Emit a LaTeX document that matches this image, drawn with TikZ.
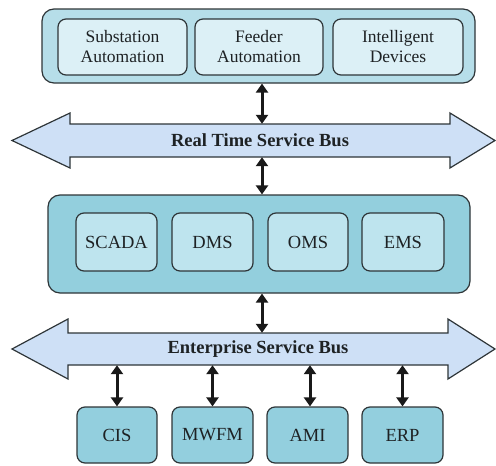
\documentclass[tikz,border=0pt]{standalone}
\usepackage{fontspec}
\setmainfont{Liberation Serif}
\usetikzlibrary{arrows.meta}
\definecolor{outertop}{HTML}{B6DEE9}
\definecolor{innertop}{HTML}{DCF0F6}
\definecolor{midouter}{HTML}{93CFDD}
\definecolor{midinner}{HTML}{BEE4EE}
\definecolor{busfill}{HTML}{CEE0F6}
\definecolor{botfill}{HTML}{93CFDE}
\definecolor{edge}{HTML}{2E3538}
\definecolor{txt}{HTML}{1E2224}
\tikzset{
  box/.style={draw=edge, line width=1.2pt, rounded corners=8pt, inner sep=0pt, align=center, text=txt},
  bigbox/.style={draw=edge, line width=1.2pt, rounded corners=12pt, inner sep=0pt},
  topin/.style={box, fill=innertop, minimum height=56pt, font=\fontsize{17.5}{20}\selectfont},
  midin/.style={box, fill=midinner, minimum height=58pt, font=\fontsize{18.5}{20}\selectfont},
  botbox/.style={box, fill=botfill, minimum height=56pt, font=\fontsize{18.5}{20}\selectfont},
  shaft/.style={inner sep=0pt, font=\bfseries\fontsize{18.5}{20}\selectfont, text=txt},
  busshape/.style={draw=edge, line width=1.2pt, fill=busfill, line join=miter},
  biarrow/.style={line width=3pt, draw=black!90, {Triangle[length=9pt,width=12pt]}-{Triangle[length=9pt,width=12pt]}}
}
\begin{document}
\begin{tikzpicture}[x=1pt,y=-1pt]
\useasboundingbox (0,0) rectangle (496,466);
% top layer
\node[bigbox, fill=outertop, minimum width=433pt, minimum height=74pt] (top) at (258.5,46) {};
\node[topin, minimum width=129pt] (sub) at (122.5,47) {Substation\\Automation};
\node[topin, minimum width=128pt] (fed) at (259,47) {Feeder\\Automation};
\node[topin, minimum width=130pt] (ied) at (398,47) {Intelligent\\Devices};
% real time bus
\draw[busshape] (12,140.5) -- (70,113) -- (70,124) -- (450,124) -- (450,113) -- (495,140.5)
  -- (450,168) -- (450,157) -- (70,157) -- (70,168) -- cycle;
\node[shaft, minimum width=380pt, minimum height=33pt] (rtb) at (260,140.5) {Real Time Service Bus};
% middle layer
\node[bigbox, fill=midouter, minimum width=422pt, minimum height=98pt] (mid) at (259,244) {};
\node[midin, minimum width=81pt] (scada) at (116.5,242) {SCADA};
\node[midin, minimum width=81pt] (dms) at (212.5,242) {DMS};
\node[midin, minimum width=80pt] (oms) at (308,242) {OMS};
\node[midin, minimum width=82pt] (ems) at (403,242) {EMS};
% enterprise bus
\draw[busshape] (12,349) -- (68,319) -- (68,333) -- (448,333) -- (448,319) -- (495,349)
  -- (448,379) -- (448,365) -- (68,365) -- (68,379) -- cycle;
\node[shaft, minimum width=380pt, minimum height=32pt] (esb) at (258,349) {Enterprise Service Bus};
% bottom systems
\node[botbox, minimum width=80pt] (cis) at (117,435) {CIS};
\node[botbox, minimum width=81pt] (mwfm) at (212.5,435) {MWFM};
\node[botbox, minimum width=81pt] (ami) at (307.5,435) {AMI};
\node[botbox, minimum width=81pt] (erp) at (402.5,435) {ERP};
% connectors
\draw[biarrow] (top.south -| 262,0) -- (rtb.north -| 262,0);
\draw[biarrow] (rtb.south -| 262,0) -- (mid.north -| 262,0);
\draw[biarrow] (mid.south -| 262,0) -- (esb.north -| 262,0);
\draw[biarrow] (esb.south -| cis.north) -- (cis.north);
\draw[biarrow] (esb.south -| mwfm.north) -- (mwfm.north);
\draw[biarrow] (esb.south -| 310,0) -- (ami.north -| 310,0);
\draw[biarrow] (esb.south -| erp.north) -- (erp.north);
\end{tikzpicture}
\end{document}
